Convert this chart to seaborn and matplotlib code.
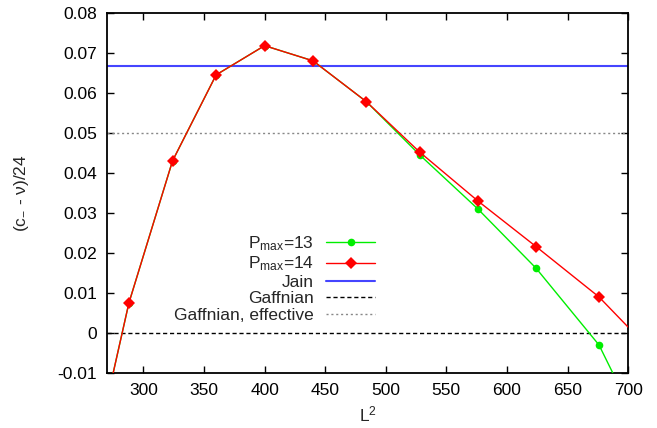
import matplotlib
matplotlib.use("Agg")
import matplotlib.pyplot as plt
import seaborn as sns
import pandas as pd

# ---- data ----
L2 = [252, 288, 324, 360, 400, 440, 484, 528, 576, 624, 676, 728]
pmax13 = [-0.041, 0.0075, 0.043, 0.0645, 0.0718, 0.068, 0.0578, 0.0445, 0.031, 0.0162, -0.003, -0.035]
pmax14 = [-0.041, 0.0075, 0.043, 0.0645, 0.0718, 0.068, 0.0578, 0.0452, 0.033, 0.0216, 0.009, -0.0073]
jain = 1 / 15
gaffnian = 0.0
gaffnian_eff = 0.05
xticks = [300, 350, 400, 450, 500, 550, 600, 650, 700]
yticks = [-0.01, 0, 0.01, 0.02, 0.03, 0.04, 0.05, 0.06, 0.07, 0.08]
ytick_labels = ["-0.01", "0", "0.01", "0.02", "0.03", "0.04", "0.05", "0.06", "0.07", "0.08"]

sns.set_style("ticks")
plt.rcParams["font.family"] = ["Liberation Sans", "DejaVu Sans"]
plt.rcParams["mathtext.fontset"] = "custom"
plt.rcParams["mathtext.rm"] = "Liberation Sans"
plt.rcParams["mathtext.it"] = "Liberation Sans"
plt.rcParams["mathtext.default"] = "rm"

FS = 12.5
df = pd.DataFrame({"L2": L2, "p13": pmax13, "p14": pmax14})

fig = plt.figure(figsize=(6.57, 4.28), dpi=100)
ax = fig.add_axes([0.163, 0.1285, 0.793, 0.8415])

sns.lineplot(data=df, x="L2", y="p13", ax=ax, color="#00ee00", marker="o",
             markersize=5.5, markeredgewidth=0, lw=1.0, sort=False,
             label=r"P$_{max}$=13", zorder=3)
sns.lineplot(data=df, x="L2", y="p14", ax=ax, color="#ff0000", marker="D",
             markersize=6.5, markeredgewidth=0, lw=1.0, sort=False,
             label=r"P$_{max}$=14", zorder=4)
ax.axhline(jain, color="#4545ff", lw=1.5, label="Jain", zorder=2)
ax.axhline(gaffnian, color="black", lw=1.0, ls=(0, (3, 2)), label="Gaffnian", zorder=2)
ax.axhline(gaffnian_eff, color="#888888", lw=1.0, ls=(0, (1.5, 2)),
           label="Gaffnian, effective", zorder=2)

ax.set_xlim(270, 700)
ax.set_ylim(-0.01, 0.08)
ax.set_xticks(xticks)
ax.set_yticks(yticks)
ax.set_yticklabels(ytick_labels)
ax.tick_params(direction="in", top=True, right=True, labelsize=FS,
               length=5, width=1, colors="black", pad=7)
for s in ax.spines.values():
    s.set_linewidth(1.3)
    s.set_color("black")

ax.set_xlabel(r"L$^2$", fontsize=FS, labelpad=5)
ax.set_ylabel(r"(c$_{-}$ - ν)/24", fontsize=FS, labelpad=19)

leg = ax.legend(loc="upper right", bbox_to_anchor=(0.514, 0.3845), frameon=False,
                markerfirst=False, fontsize=FS, handlelength=2.8,
                handletextpad=0.7, labelspacing=0.08, borderpad=0,
                borderaxespad=0)

fig.savefig("out.png", dpi=100)
